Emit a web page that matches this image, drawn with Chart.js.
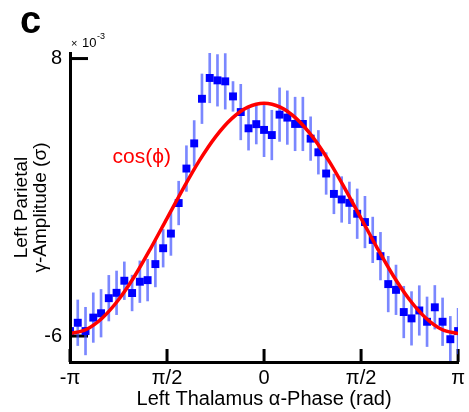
<!DOCTYPE html>
<html><head><meta charset="utf-8">
<script src="https://cdn.jsdelivr.net/npm/chart.js@4/dist/chart.umd.min.js"></script>
<style>html,body{margin:0;padding:0;background:#fff}#c{display:block}</style>
</head><body>
<canvas id="c" width="469" height="412"></canvas>
<script>
// Phase bins (rad)
const phase = [-3.1416,-3.0159,-2.8903,-2.7646,-2.6389,-2.5133,-2.3876,-2.2619,-2.1363,-2.0106,
  -1.8850,-1.7593,-1.6336,-1.5080,-1.3823,-1.2566,-1.1310,-1.0053,-0.8796,-0.7540,
  -0.6283,-0.5027,-0.3770,-0.2513,-0.1257,0,0.1257,0.2513,0.3770,0.5027,
  0.6283,0.7540,0.8796,1.0053,1.1310,1.2566,1.3823,1.5080,1.6336,1.7593,
  1.8850,2.0106,2.1363,2.2619,2.3876,2.5133,2.6389,2.7646,2.8903,3.0159,3.1416];
// Mean gamma amplitude (x 10^-3 sigma)
const amplitude = [-5.75,-5.33,-5.75,-5.07,-4.85,-4.09,-3.82,-3.21,-3.83,-3.26,
  -3.18,-2.37,-1.57,-0.83,0.71,2.45,3.72,5.97,7.02,6.90,
  6.85,6.09,5.30,4.48,4.69,4.40,4.14,5.17,5.02,4.70,
  4.70,3.96,3.27,2.20,1.17,0.89,0.72,0.17,-0.25,-1.15,
  -1.97,-3.38,-3.67,-4.79,-5.11,-4.71,-5.28,-4.55,-5.28,-6.16,-5.75];
// Error (half-length of bars)
const amplitudeErr = [1.10,1.15,1.20,1.25,1.20,1.15,1.10,0.95,0.90,1.05,
  1.05,1.15,0.95,1.10,1.10,1.15,1.15,1.25,1.25,1.30,
  1.40,0.75,1.40,1.10,1.00,1.35,1.25,1.35,1.35,1.35,
  1.35,1.10,1.10,1.05,1.00,1.15,1.05,1.25,1.30,1.15,
  1.20,1.40,1.25,1.30,1.35,1.25,1.25,1.10,1.20,1.15,1.15];
// cos(phi) fit curve
const fitPhase = [-3.1416,-2.8798,-2.6180,-2.3562,-2.0944,-1.8326,-1.5708,-1.3090,-1.0472,-0.7854,-0.5236,-0.2618,
  0,0.2618,0.5236,0.7854,1.0472,1.3090,1.5708,1.8326,2.0944,2.3562,2.6180,2.8798,3.1416];
const fitAmplitude = [-5.87,-5.67,-5.09,-4.17,-2.97,-1.56,-0.06,1.44,2.85,4.05,4.97,5.55,
  5.75,5.55,4.97,4.05,2.85,1.44,-0.06,-1.56,-2.97,-4.17,-5.09,-5.67,-5.87];
const xTickValues = [-Math.PI, -Math.PI/2, 0, Math.PI/2, Math.PI];
const xTickLabels = ['-π','π/2','0','π/2','π'];
const yTickValues = [8, -6];
const yTickLabels = ['8','-6'];

const FONT = '"Liberation Sans", Arial, Helvetica, sans-serif';
Chart.defaults.font.family = FONT;
Chart.defaults.color = '#000';

const decor = {
  id: 'decor',
  beforeDatasetsDraw(chart) {
    const {ctx, chartArea: a, scales: {x, y}} = chart;
    ctx.save();
    ctx.strokeStyle = '#000';
    ctx.lineWidth = 3;
    xTickValues.forEach(v => {
      const px = x.getPixelForValue(v);
      ctx.beginPath(); ctx.moveTo(px, a.bottom); ctx.lineTo(px, a.bottom - 13); ctx.stroke();
    });
    yTickValues.forEach(v => {
      const py = y.getPixelForValue(v);
      ctx.beginPath(); ctx.moveTo(a.left, py); ctx.lineTo(a.left + 18, py); ctx.stroke();
    });
    ctx.restore();
  },
  afterDraw(chart) {
    const {ctx, chartArea: a, scales: {x, y}} = chart;
    ctx.save();
    ctx.fillStyle = '#000';
    ctx.textBaseline = 'alphabetic';
    ctx.textAlign = 'left';
    ctx.font = 'bold 38px ' + FONT;
    ctx.fillText('c', 20, 33);
    ctx.font = '11px ' + FONT;
    ctx.fillText('×', a.left + 1, 47);
    ctx.font = '13px ' + FONT;
    ctx.fillText('10', a.left + 12, 47);
    ctx.font = '9px ' + FONT;
    ctx.fillText('-3', a.left + 27, 39);
    ctx.fillStyle = '#ff0000';
    ctx.font = '21px ' + FONT;
    ctx.textAlign = 'center';
    ctx.textBaseline = 'middle';
    ctx.fillText('cos(ϕ)', x.getPixelForValue(-1.98), y.getPixelForValue(3.03));
    ctx.restore();
  }
};

new Chart(document.getElementById('c'), {
  type: 'scatter',
  data: {
    datasets: [
      {
        type: 'line',
        data: fitPhase.map((p, i) => ({x: p, y: fitAmplitude[i]})),
        borderColor: '#ff0000',
        borderWidth: 3.5,
        pointRadius: 0,
        cubicInterpolationMode: 'monotone',
        fill: false,
        order: 0,
        clip: 0
      },
      {
        type: 'scatter',
        data: phase.map((p, i) => ({x: p, y: amplitude[i]})),
        pointStyle: 'rect',
        pointRadius: 5.6,
        pointBorderWidth: 0,
        backgroundColor: '#0000ff',
        borderColor: '#0000ff',
        order: 1,
        clip: 0
      },
      {
        type: 'bar',
        data: phase.map((p, i) => ({x: p, y: [amplitude[i] - amplitudeErr[i], amplitude[i] + amplitudeErr[i]]})),
        backgroundColor: 'rgba(50,70,255,0.65)',
        borderWidth: 0,
        barThickness: 2,
        order: 2,
        clip: 0
      }
    ]
  },
  options: {
    responsive: false,
    animation: false,
    events: [],
    layout: {padding: {top: 53, right: 8, left: 0, bottom: 0}},
    plugins: {legend: {display: false}, tooltip: {enabled: false}},
    scales: {
      x: {
        type: 'linear',
        min: -Math.PI, max: Math.PI,
        offset: false,
        grid: {display: false, drawTicks: false},
        border: {display: true, color: '#000', width: 3, z: 1},
        afterBuildTicks: s => { s.ticks = xTickValues.map(v => ({value: v})); },
        afterFit: s => { s.height = 50; },
        ticks: {
          autoSkip: false, maxRotation: 0, padding: 4,
          font: {size: 20}, color: '#000',
          callback: (v, i) => xTickLabels[i]
        },
        title: {
          display: true, text: 'Left Thalamus α-Phase (rad)',
          font: {size: 20}, color: '#000',
          padding: {top: 0, bottom: 1}
        }
      },
      y: {
        type: 'linear',
        min: -7.31, max: 8.28,
        grid: {display: false, drawTicks: false},
        border: {display: true, color: '#000', width: 3, z: 1},
        afterBuildTicks: s => { s.ticks = yTickValues.map(v => ({value: v})); },
        afterFit: s => { s.width = 70; },
        ticks: {
          autoSkip: false, padding: 8,
          font: {size: 20}, color: '#000',
          callback: (v, i) => yTickLabels[i]
        },
        title: {
          display: true, text: ['Left Parietal', 'γ-Amplitude (σ)'],
          font: {size: 19, lineHeight: 1.0}, color: '#000',
          padding: {top: 12, bottom: 0}
        }
      }
    }
  },
  plugins: [decor]
});
</script>
</body></html>
